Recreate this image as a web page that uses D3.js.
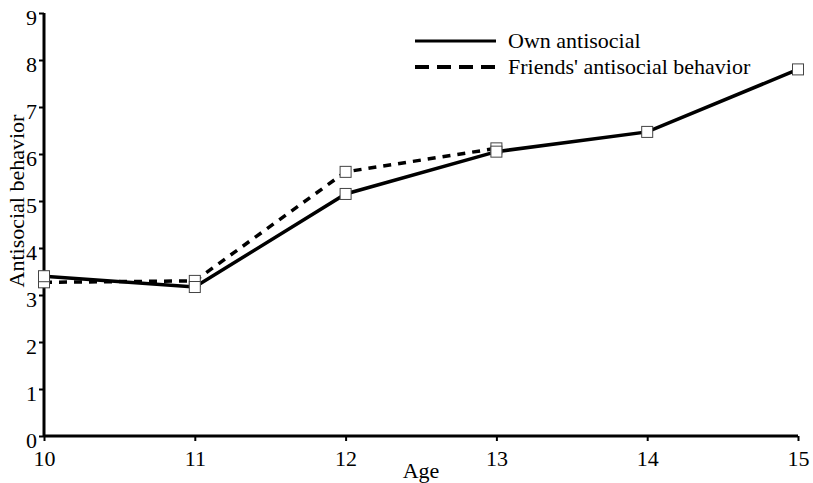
<!DOCTYPE html>
<html>
<head>
<meta charset="utf-8">
<script src="https://cdn.jsdelivr.net/npm/d3@7"></script>
<style>
  body { margin: 0; background: #fff; }
  svg text { font-family: "Liberation Serif", "DejaVu Serif", serif; fill: #000; }
</style>
</head>
<body>
<svg width="813" height="483"></svg>
<script>
// Chart data
const ages = [10, 11, 12, 13, 14, 15];
const ownValues = [3.40, 3.17, 5.15, 6.05, 6.47, 7.80];
const friendAges = [10, 11, 12, 13];
const friendValues = [3.27, 3.30, 5.62, 6.12];
const yTicks = [0, 1, 2, 3, 4, 5, 6, 7, 8, 9];

let svg = d3.select('svg');

let x = d3.scaleLinear().domain([10, 15]).range([44, 798]);
let y = d3.scaleLinear().domain([0, 9]).range([436, 13]);

// Y axis
let yAxis = svg.append('g')
	.attr('transform', 'translate(44,0)')
	.call(d3.axisLeft(y).tickValues(yTicks).tickFormat(d3.format('d')).tickSize(5).tickPadding(2));
yAxis.select('.domain').attr('stroke-width', 3).attr('d', 'M0,' + y(9) + 'V' + y(0));
yAxis.selectAll('.tick line').attr('stroke-width', 2);
yAxis.selectAll('.tick text')
	.style('font-size', '22px')
	.attr('dy', '0.5em');

// X axis
let xAxis = svg.append('g')
	.attr('transform', 'translate(0,436)')
	.call(d3.axisBottom(x).tickValues(ages).tickFormat(d3.format('d')).tickSize(5).tickPadding(9));
xAxis.select('.domain').attr('stroke-width', 3).attr('d', 'M' + x(10) + ',0H' + x(15));
xAxis.selectAll('.tick line').attr('stroke-width', 2);
xAxis.selectAll('.tick text').style('font-size', '22px');

// Axis titles
svg.append('text')
	.attr('x', 421).attr('y', 478)
	.attr('text-anchor', 'middle')
	.style('font-size', '22px')
	.text('Age');

svg.append('text')
	.attr('transform', 'translate(24,201) rotate(-90)')
	.attr('text-anchor', 'middle')
	.style('font-size', '22px')
	.text('Antisocial behavior');

let line = d3.line().x(d => x(d[0])).y(d => y(d[1]));

let ownData = ages.map((a, i) => [a, ownValues[i]]);
let friendData = friendAges.map((a, i) => [a, friendValues[i]]);

// Lines
svg.append('path')
	.datum(friendData)
	.attr('d', line)
	.attr('fill', 'none')
	.attr('stroke', '#000')
	.attr('stroke-width', 3.5)
	.attr('stroke-dasharray', '8,7');

svg.append('path')
	.datum(ownData)
	.attr('d', line)
	.attr('fill', 'none')
	.attr('stroke', '#000')
	.attr('stroke-width', 3.5);

// Markers
function drawMarkers(data)
{
	svg.append('g').selectAll('rect')
		.data(data)
		.enter()
		.append('rect')
		.attr('x', d => x(d[0]) - 5.5)
		.attr('y', d => y(d[1]) - 5.5)
		.attr('width', 11)
		.attr('height', 11)
		.attr('fill', '#fff')
		.attr('stroke', '#444')
		.attr('stroke-width', 1);
}
drawMarkers(friendData);
drawMarkers(ownData);

// Legend
let legend = svg.append('g');
legend.append('line')
	.attr('x1', 415).attr('x2', 496).attr('y1', 41).attr('y2', 41)
	.attr('stroke', '#000').attr('stroke-width', 3);
legend.append('line')
	.attr('x1', 415).attr('x2', 496).attr('y1', 67).attr('y2', 67)
	.attr('stroke', '#000').attr('stroke-width', 4)
	.attr('stroke-dasharray', '14,8');
legend.append('text')
	.attr('x', 508).attr('y', 48)
	.style('font-size', '22px')
	.text('Own antisocial');
legend.append('text')
	.attr('x', 508).attr('y', 74)
	.style('font-size', '22px')
	.text("Friends' antisocial behavior");
</script>
</body>
</html>
